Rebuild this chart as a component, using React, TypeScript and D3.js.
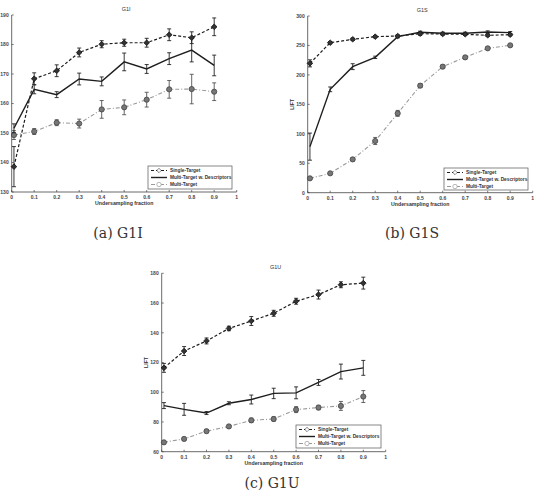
import React from "react";
import * as d3 from "d3";

const xs = [0.01, 0.1, 0.2, 0.3, 0.4, 0.5, 0.6, 0.7, 0.8, 0.9];
const xTicks = [0, 0.1, 0.2, 0.3, 0.4, 0.5, 0.6, 0.7, 0.8, 0.9, 1];
const seriesNames = ["Single-Target", "Multi-Target w. Descriptors", "Multi-Target"];

// G1I
const g1iSingle = [138.6, 168.4, 171.1, 177.3, 180.1, 180.6, 180.6, 183.3, 182.3, 186.0];
const g1iSingleErr = [6.8, 2, 2, 1.5, 1.2, 1.2, 1.5, 2, 2, 3];
const g1iDesc = [151.6, 164.8, 163.0, 168.3, 167.5, 174.1, 171.7, 175.2, 178.1, 172.9];
const g1iDescErr = [1.5, 1.5, 1, 2, 1.5, 3, 1.5, 2, 4, 3.5];
const g1iMulti = [149.3, 150.5, 153.5, 153.2, 158.0, 158.7, 161.3, 164.8, 164.9, 164.0];
const g1iMultiErr = [1.5, 1, 1, 1.5, 3, 2.5, 2.5, 3, 5, 3];
const g1iTicks = [130, 140, 150, 160, 170, 180, 190];

// G1S
const g1sSingle = [219.6, 254.7, 260.4, 264.9, 266.0, 270.0, 269.4, 268.9, 267.2, 268.3];
const g1sSingleErr = [6, 2, 2, 2, 2, 3, 2, 2, 2, 2];
const g1sDesc = [78.2, 175.5, 214.0, 229.8, 264.9, 272.3, 270.6, 270.6, 272.8, 271.7];
const g1sDescErr = [23, 4, 5, 2, 2, 2, 2, 2, 2, 2];
const g1sMulti = [24.4, 32.9, 56.6, 87.8, 134.7, 181.7, 214.0, 229.8, 245.1, 250.2];
const g1sMultiErr = [2, 2, 3, 6, 5, 3, 3, 3, 2, 2];
const g1sTicks = [0, 50, 100, 150, 200, 250, 300];

// G1U
const g1uSingle = [116.4, 127.7, 134.5, 142.9, 147.9, 153.1, 161.2, 165.7, 172.3, 173.4];
const g1uSingleErr = [3, 3, 2, 1.5, 3, 2, 2, 3, 2, 4];
const g1uDesc = [91.0, 88.5, 86.0, 92.6, 95.1, 99.2, 99.6, 106.6, 113.9, 116.4];
const g1uDescErr = [2, 4, 1, 1, 3, 3.5, 4, 2, 5, 5];
const g1uMulti = [66.3, 68.6, 73.8, 77.0, 81.1, 82.0, 88.3, 89.7, 90.8, 97.1];
const g1uMultiErr = [1, 1, 1, 1, 1.5, 1.5, 2, 1.5, 3, 4];
const g1uTicks = [60, 80, 100, 120, 140, 160, 180];

const FONT = "'Liberation Sans', Arial, sans-serif";
const styles = [
  { color: "#1e1e1e", dash: "3,2", width: 1.2, marker: "diamond" },
  { color: "#1e1e1e", dash: "", width: 1.4, marker: "none" },
  { color: "#9a9a9a", dash: "4,2,1,2", width: 1.1, marker: "circle" },
];

type PanelProps = {
  left: number; right: number; top: number; bottom: number;
  yDomain: [number, number]; yTicks: number[]; title: string;
  series: number[][]; errs: number[][]; showYLabel: boolean;
  legend: { x: number; y: number; w: number; h: number };
};

function Marker({ kind, x, y, color }: { kind: string; x: number; y: number; color: string }) {
  if (kind === "diamond") {
    const s = 2.8;
    return <path d={`M${x},${y - s}L${x + s},${y}L${x},${y + s}L${x - s},${y}Z`} fill="#333" stroke="#111" strokeWidth={0.8} />;
  }
  if (kind === "circle") {
    return <circle cx={x} cy={y} r={2.6} fill="#777" stroke="#444" strokeWidth={0.8} />;
  }
  return null;
}

function Panel(p: PanelProps) {
  const x = d3.scaleLinear().domain([0, 1]).range([p.left, p.right]);
  const y = d3.scaleLinear().domain(p.yDomain).range([p.bottom, p.top]);
  const line = d3.line<number>().x((_, i) => x(xs[i])).y((v) => y(v));
  const cx = (p.left + p.right) / 2;
  return (
    <g>
      <text x={cx + 2} y={p.top - 4} fontSize={5.5} fontFamily={FONT} textAnchor="middle" fill="#333">{p.title}</text>
      {/* axes */}
      <line x1={p.left} x2={p.left} y1={p.top} y2={p.bottom} stroke="#444" strokeWidth={0.8} />
      <line x1={p.left} x2={p.right} y1={p.bottom} y2={p.bottom} stroke="#444" strokeWidth={0.8} />
      {p.yTicks.map((t) => (
        <g key={"y" + t}>
          <line x1={p.left} x2={p.left + 2} y1={y(t)} y2={y(t)} stroke="#444" strokeWidth={0.7} />
          <text x={p.left - 3} y={y(t) + 1.8} fontSize={5} fontFamily={FONT} fontWeight="bold" textAnchor="end" fill="#444">{t}</text>
        </g>
      ))}
      {xTicks.map((t) => (
        <g key={"x" + t}>
          <line x1={x(t)} x2={x(t)} y1={p.bottom} y2={p.bottom - 2} stroke="#444" strokeWidth={0.7} />
          <text x={x(t)} y={p.bottom + 7} fontSize={5} fontFamily={FONT} fontWeight="bold" textAnchor="middle" fill="#444">{t}</text>
        </g>
      ))}
      <text x={cx} y={p.bottom + 13} fontSize={5.2} fontFamily={FONT} fontWeight="bold" textAnchor="middle" fill="#333">Undersampling fraction</text>
      {p.showYLabel && (
        <text transform={`translate(${p.left - 14},${(p.top + p.bottom) / 2}) rotate(-90)`} fontSize={5.2} fontFamily={FONT} fontWeight="bold" textAnchor="middle" fill="#333">LIFT</text>
      )}
      {/* series, drawn back to front */}
      {[2, 1, 0].map((si) => {
        const st = styles[si];
        const vals = p.series[si];
        const er = p.errs[si];
        return (
          <g key={"s" + si}>
            <path d={line(vals) || ""} fill="none" stroke={st.color} strokeWidth={st.width} strokeDasharray={st.dash} />
            {vals.map((v, i) => (
              <g key={i}>
                <line x1={x(xs[i])} x2={x(xs[i])} y1={y(v - er[i])} y2={y(v + er[i])} stroke={si === 2 ? "#555" : "#222"} strokeWidth={0.9} />
                <line x1={x(xs[i]) - 2} x2={x(xs[i]) + 2} y1={y(v - er[i])} y2={y(v - er[i])} stroke={si === 2 ? "#555" : "#222"} strokeWidth={0.9} />
                <line x1={x(xs[i]) - 2} x2={x(xs[i]) + 2} y1={y(v + er[i])} y2={y(v + er[i])} stroke={si === 2 ? "#555" : "#222"} strokeWidth={0.9} />
                <Marker kind={st.marker} x={x(xs[i])} y={y(v)} color={st.color} />
              </g>
            ))}
          </g>
        );
      })}
      {/* legend */}
      <g>
        <rect x={p.legend.x} y={p.legend.y} width={p.legend.w} height={p.legend.h} fill="#fff" stroke="#555" strokeWidth={0.7} />
        {seriesNames.map((n, i) => {
          const ly = p.legend.y + 4.5 + i * 7;
          const st = styles[i];
          const lx = p.legend.x + 3;
          return (
            <g key={n}>
              <line x1={lx} x2={lx + 16} y1={ly} y2={ly} stroke={st.color} strokeWidth={st.width} strokeDasharray={st.dash} />
              {st.marker === "diamond" && <path d={`M${lx + 8},${ly - 2.2}L${lx + 10.2},${ly}L${lx + 8},${ly + 2.2}L${lx + 5.8},${ly}Z`} fill="#fff" stroke="#333" strokeWidth={0.6} />}
              {st.marker === "circle" && <circle cx={lx + 8} cy={ly} r={2.2} fill="#fff" stroke="#888" strokeWidth={0.6} />}
              <text x={lx + 19} y={ly + 1.8} fontSize={4.8} fontFamily={FONT} fontWeight="bold" fill="#333">{n}</text>
            </g>
          );
        })}
      </g>
    </g>
  );
}

export default function App() {
  return (
    <svg width={534} height={499} style={{ position: "absolute", left: 0, top: 0, background: "#fff" }}>
      <rect width={534} height={499} fill="#fff" />
      <Panel left={11.7} right={236.7} top={15} bottom={192} yDomain={[130, 190]} yTicks={g1iTicks} title="G1I"
        series={[g1iSingle, g1iDesc, g1iMulti]} errs={[g1iSingleErr, g1iDescErr, g1iMultiErr]} showYLabel={false}
        legend={{ x: 148, y: 166, w: 84, h: 23 }} />
      <Panel left={307.7} right={532.7} top={16} bottom={192.7} yDomain={[0, 300]} yTicks={g1sTicks} title="G1S"
        series={[g1sSingle, g1sDesc, g1sMulti]} errs={[g1sSingleErr, g1sDescErr, g1sMultiErr]} showYLabel={true}
        legend={{ x: 444, y: 168, w: 84, h: 22 }} />
      <Panel left={161.7} right={385.7} top={273.3} bottom={451.7} yDomain={[60, 180]} yTicks={g1uTicks} title="G1U"
        series={[g1uSingle, g1uDesc, g1uMulti]} errs={[g1uSingleErr, g1uDescErr, g1uMultiErr]} showYLabel={true}
        legend={{ x: 296, y: 425, w: 85, h: 23 }} />
      <text x={118} y={238} fontSize={14} fontFamily="'DejaVu Serif', 'Liberation Serif', serif" textAnchor="middle" fill="#333">(a) G1I</text>
      <text x={412} y={238} fontSize={14} fontFamily="'DejaVu Serif', 'Liberation Serif', serif" textAnchor="middle" fill="#333">(b) G1S</text>
      <text x={272} y={488} fontSize={14} fontFamily="'DejaVu Serif', 'Liberation Serif', serif" textAnchor="middle" fill="#333">(c) G1U</text>
    </svg>
  );
}
